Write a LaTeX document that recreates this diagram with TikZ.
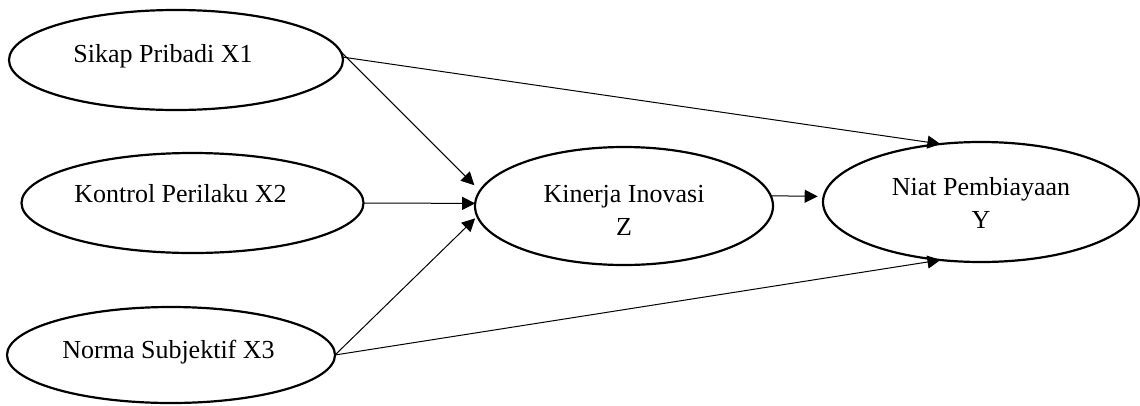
\documentclass[tikz,border=0pt]{standalone}
\usepackage{fontspec}
\setmainfont{Liberation Serif}
\usetikzlibrary{arrows.meta,shapes.geometric}
\tikzset{
  latent/.style={ellipse, draw, line width=2.2pt, inner sep=0pt, outer sep=0pt,
    font=\fontsize{26pt}{33pt}\selectfont, align=center},
  arr/.style={line width=1pt, -{Triangle[length=13pt,width=13pt]}}
}
\begin{document}
\begin{tikzpicture}[x=1pt,y=-1pt]
\useasboundingbox (0,0) rectangle (1140,405);
\node[latent, minimum width=334pt, minimum height=100pt, text height=18pt, text depth=14pt]
  (x1) at (176,60) {Sikap Pribadi X1\hspace*{26pt}};
\node[latent, minimum width=342pt, minimum height=100pt, text height=18pt, text depth=20pt]
  (x2) at (192.5,203) {Kontrol Perilaku X2\hspace*{24pt}};
\node[latent, minimum width=328pt, minimum height=96pt, text height=18pt, text depth=12pt]
  (x3) at (171,355) {Norma Subjektif X3\hspace*{5pt}};
\node[latent, minimum width=298pt, minimum height=118pt, text height=58pt, text depth=0pt]
  (z) at (624,206) {Kinerja Inovasi\\Z};
\node[latent, minimum width=316pt, minimum height=120pt, text height=52pt, text depth=0pt]
  (y) at (981,202) {Niat Pembiayaan\\Y};
\draw[arr, shorten >=8pt] (x1.3) -- (z.174);
\draw[arr] (x1.1) -- (y.125);
\draw[arr] (x2.0) -- (z.179);
\draw[arr, shorten >=3pt] (x3.east) -- (z.184);
\draw[arr] (x3.east) -- (y.235);
\draw[arr, shorten >=6pt] (z.4) -- (y.178);
\end{tikzpicture}
\end{document}
